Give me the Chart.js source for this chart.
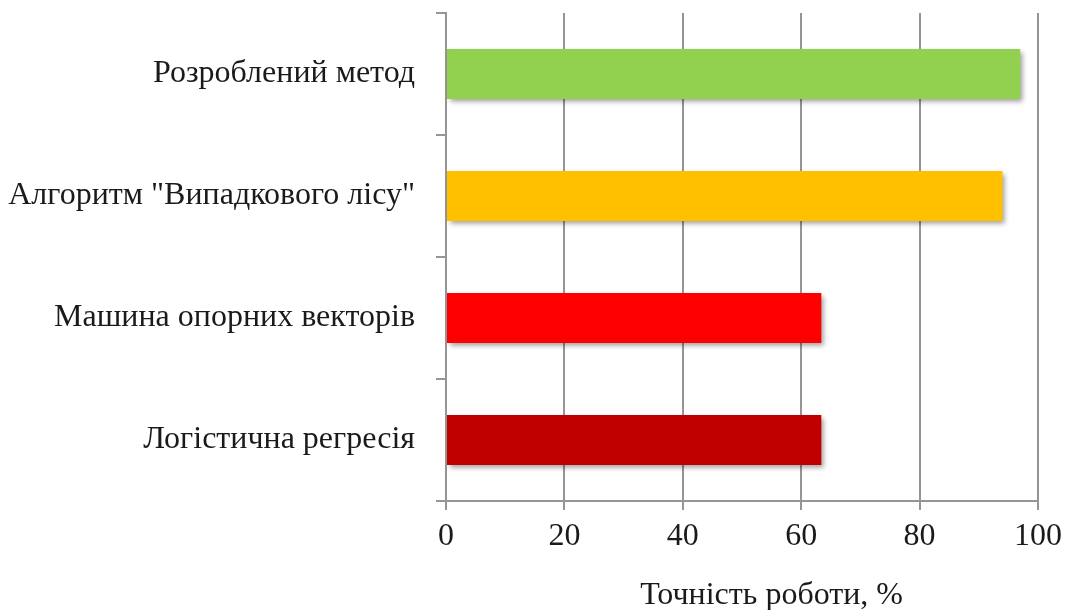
<!DOCTYPE html>
<html>
<head>
<meta charset="utf-8">
<script src="https://cdn.jsdelivr.net/npm/chart.js@4/dist/chart.umd.min.js"></script>
<style>
  html, body { margin: 0; padding: 0; background: #fff; }
  #wrap { width: 1067px; height: 610px; }
</style>
</head>
<body>
<div id="wrap"><canvas id="c" width="1067" height="610"></canvas></div>
<script>
// Methods compared, top to bottom
const methods = [
  'Розроблений метод',
  'Алгоритм "Випадкового лісу"',
  'Машина опорних векторів',
  'Логістична регресія'
];
// Accuracy of each method, %
const accuracy = [97, 94, 63.4, 63.4];
const barColors = ['#92D050', '#FFC000', '#FF0000', '#C00000'];
const xTicks = [0, 20, 40, 60, 80, 100];
const xTitle = 'Точність роботи, %';

const FONT = '"Liberation Serif", "Times New Roman", serif';
const FONT_SIZE = 32;
const AXIS_GREY = '#959595';

// Soft drop shadow under the bars
const barShadow = {
  id: 'barShadow',
  beforeDatasetsDraw(chart) {
    const ctx = chart.ctx;
    ctx.save();
    ctx.shadowColor = 'rgba(0,0,0,0.38)';
    ctx.shadowBlur = 5;
    ctx.shadowOffsetX = 3;
    ctx.shadowOffsetY = 3;
  },
  afterDatasetsDraw(chart) {
    chart.ctx.restore();
  }
};

// Axis caption under the value axis
const axisCaption = {
  id: 'axisCaption',
  afterDraw(chart) {
    const ctx = chart.ctx;
    const x = chart.scales.x.getPixelForValue(55);
    ctx.save();
    ctx.font = FONT_SIZE + 'px ' + FONT;
    ctx.fillStyle = '#1a1a1a';
    ctx.textAlign = 'center';
    ctx.textBaseline = 'alphabetic';
    ctx.fillText(xTitle, x, 604);
    ctx.restore();
  }
};

new Chart(document.getElementById('c'), {
  type: 'bar',
  data: {
    labels: methods,
    datasets: [{
      data: accuracy,
      backgroundColor: barColors,
      borderWidth: 0,
      categoryPercentage: 1,
      barPercentage: 0.41
    }]
  },
  options: {
    indexAxis: 'y',
    responsive: false,
    animation: false,
    layout: { padding: { top: 13, right: 29, left: 0, bottom: 0 } },
    plugins: {
      legend: { display: false },
      tooltip: { enabled: false }
    },
    scales: {
      x: {
        min: 0,
        max: 100,
        afterBuildTicks(scale) {
          scale.ticks = xTicks.map(v => ({ value: v }));
        },
        afterFit(scale) {
          scale.height = 109;
          scale.paddingLeft = 0;
          scale.paddingRight = 0;
        },
        grid: {
          color: AXIS_GREY,
          lineWidth: 2,
          drawTicks: true,
          tickLength: 9
        },
        border: { display: true, color: AXIS_GREY, width: 2 },
        ticks: {
          padding: 7,
          color: '#1a1a1a',
          font: { family: FONT, size: FONT_SIZE }
        }
      },
      y: {
        afterFit(scale) {
          scale.width = 446;
          scale.paddingTop = 0;
          scale.paddingBottom = 0;
        },
        grid: {
          offset: true,
          drawOnChartArea: false,
          drawTicks: true,
          tickLength: 10,
          color: AXIS_GREY,
          lineWidth: 2
        },
        border: { display: true, color: AXIS_GREY, width: 2 },
        ticks: {
          padding: 21,
          color: '#1a1a1a',
          font: { family: FONT, size: FONT_SIZE }
        }
      }
    }
  },
  plugins: [barShadow, axisCaption]
});
</script>
</body>
</html>
